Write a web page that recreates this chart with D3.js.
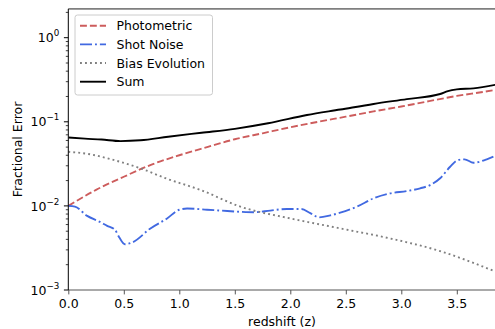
<!DOCTYPE html>
<html>
<head>
<meta charset="utf-8">
<script src="https://cdn.jsdelivr.net/npm/d3@7"></script>
<style>
  html, body { margin: 0; padding: 0; background: #fff; }
  svg { display: block; font-family: "DejaVu Sans", sans-serif; }
</style>
</head>
<body>
<svg id="chart" width="495" height="329"></svg>
<script>
// Error budget contributions vs. redshift
const photoZ   = [0, 0.25, 0.5, 0.75, 1.0, 1.25, 1.5, 1.75, 2.0, 2.25, 2.5, 2.75, 3.0, 3.25, 3.5, 3.75, 3.85];
const photoVal = [0.0100, 0.0155, 0.0222, 0.031, 0.040, 0.050, 0.062, 0.073, 0.086, 0.100, 0.115, 0.133, 0.152, 0.176, 0.203, 0.228, 0.240];

const shotZ   = [0, 0.06, 0.17, 0.28, 0.35, 0.42, 0.46, 0.51, 0.58, 0.74, 0.89, 1.0, 1.07, 1.25, 1.37, 1.55, 1.67, 1.82, 1.97, 2.10, 2.18, 2.26, 2.36, 2.45, 2.60, 2.75, 2.90, 3.05, 3.17, 3.26, 3.35, 3.44, 3.51, 3.57, 3.65, 3.77, 3.85];
const shotVal = [0.0100, 0.0098, 0.0076, 0.0065, 0.0058, 0.0052, 0.0042, 0.0035, 0.0037, 0.0054, 0.0071, 0.0090, 0.0093, 0.0090, 0.0088, 0.0085, 0.0084, 0.0088, 0.0092, 0.0092, 0.0082, 0.0073, 0.0077, 0.0083, 0.0098, 0.0123, 0.0141, 0.0150, 0.0162, 0.0177, 0.0213, 0.0292, 0.0351, 0.0358, 0.0326, 0.0358, 0.0395];

const biasZ   = [0, 0.2, 0.38, 0.65, 0.89, 1.19, 1.55, 2.0, 2.45, 2.9, 3.35, 3.85];
const biasVal = [0.044, 0.041, 0.036, 0.028, 0.021, 0.0155, 0.0098, 0.0071, 0.0054, 0.0041, 0.0029, 0.00165];

const sumZ   = [0, 0.15, 0.3, 0.47, 0.65, 0.9, 1.2, 1.5, 1.8, 2.15, 2.45, 2.75, 3.05, 3.35, 3.42, 3.5, 3.65, 3.85];
const sumVal = [0.065, 0.063, 0.0615, 0.059, 0.0603, 0.0665, 0.0741, 0.0825, 0.096, 0.1205, 0.140, 0.163, 0.186, 0.214, 0.232, 0.243, 0.250, 0.276];

const xTicks = [0, 0.5, 1.0, 1.5, 2.0, 2.5, 3.0, 3.5];
const yTickExps = [0, -1, -2, -3];

const FS = 12.5;   // base font size
const LW = 1.875;  // line width

const series = [
  { name: "Photometric",    z: photoZ, v: photoVal, color: "#cd5c5c", dash: "6.9,3" },
  { name: "Shot Noise",     z: shotZ,  v: shotVal,  color: "#4169e1", dash: "12,3,1.9,3" },
  { name: "Bias Evolution", z: biasZ,  v: biasVal,  color: "#808080", dash: "1.9,3.1" },
  { name: "Sum",            z: sumZ,   v: sumVal,   color: "#000000", dash: null }
];

const svg = d3.select("#chart");
const plotL = 68.3, plotR = 495.65, plotT = 8.9, plotB = 290;

const x = d3.scaleLinear().domain([0, 3.85]).range([plotL, plotR]);
const y = d3.scaleLog().domain([1e-3, 2.2]).range([plotB, plotT]);

// Clip region for the plot area
svg.append("defs").append("clipPath").attr("id", "plotclip")
  .append("rect").attr("x", plotL).attr("y", plotT).attr("width", plotR - plotL).attr("height", plotB - plotT);

// Lines
const line = d3.line().curve(d3.curveMonotoneX);
const plot = svg.append("g").attr("clip-path", "url(#plotclip)");
series.forEach(s => {
  const pts = s.z.map((z, i) => [x(z), y(s.v[i])]);
  plot.append("path")
    .attr("d", line(pts))
    .attr("fill", "none")
    .attr("stroke", s.color)
    .attr("stroke-width", LW)
    .attr("stroke-dasharray", s.dash)
    .attr("stroke-linejoin", "round");
});

// Spines
svg.append("line").attr("x1", plotL).attr("x2", plotR).attr("y1", plotT).attr("y2", plotT)
  .attr("stroke", "#7f7f7f").attr("stroke-width", 1.6);
svg.append("line").attr("x1", plotL).attr("x2", plotR).attr("y1", plotB).attr("y2", plotB)
  .attr("stroke", "#555").attr("stroke-width", 1);
svg.append("line").attr("x1", plotL).attr("x2", plotL).attr("y1", plotT).attr("y2", plotB)
  .attr("stroke", "#000").attr("stroke-width", 1);

// X axis
const xAxis = d3.axisBottom(x).tickValues(xTicks).tickFormat(d3.format(".1f")).tickSize(4.4).tickPadding(4.4);
const gx = svg.append("g").attr("transform", `translate(0,${plotB})`).call(xAxis);
gx.select(".domain").remove();
gx.selectAll(".tick line").attr("stroke", "#555");
gx.selectAll(".tick text").attr("font-size", FS).attr("fill", "#000").attr("font-family", "DejaVu Sans");

// Y axis: log ticks with superscript labels
const gy = svg.append("g");
const [ymin, ymax] = y.domain();
for (let e = -3; e <= 0; e++) {
  for (let m = 1; m <= 9; m++) {
    const v = m * Math.pow(10, e);
    if (v < ymin || v > ymax) continue;
    const yy = y(v);
    gy.append("line").attr("x1", plotL).attr("x2", plotL - (m === 1 ? 4.4 : 2.5))
      .attr("y1", yy).attr("y2", yy).attr("stroke", "#000").attr("stroke-width", m === 1 ? 1 : 0.75);
  }
}
yTickExps.forEach(e => {
  const t = gy.append("text").attr("x", plotL - 9).attr("y", y(Math.pow(10, e)) + 4.7)
    .attr("text-anchor", "end").attr("font-size", FS).attr("fill", "#000");
  t.append("tspan").text("10");
  t.append("tspan").attr("dy", -6).attr("font-size", 8.75).text(e === 0 ? "0" : "\u2212" + (-e));
});

// Axis titles
svg.append("text").attr("x", (plotL + plotR) / 2).attr("y", 325.5).attr("text-anchor", "middle")
  .attr("font-size", FS).text("redshift (z)");
svg.append("text").attr("transform", `translate(21.5,${(plotT + plotB) / 2}) rotate(-90)`)
  .attr("text-anchor", "middle").attr("font-size", FS).text("Fractional Error");

// Legend
const lg = svg.append("g");
lg.append("rect").attr("x", 75).attr("y", 15).attr("width", 137.5).attr("height", 80)
  .attr("rx", 2.5).attr("fill", "#fff").attr("fill-opacity", 0.8).attr("stroke", "#ccc").attr("stroke-width", 1);
series.forEach((s, i) => {
  const yy = 25.7 + i * 18.67;
  lg.append("line").attr("x1", 80).attr("x2", 106).attr("y1", yy).attr("y2", yy)
    .attr("stroke", s.color).attr("stroke-width", LW).attr("stroke-dasharray", s.dash);
  lg.append("text").attr("x", 116.5).attr("y", yy + 4.5).attr("font-size", FS).text(s.name);
});
</script>
</body>
</html>
